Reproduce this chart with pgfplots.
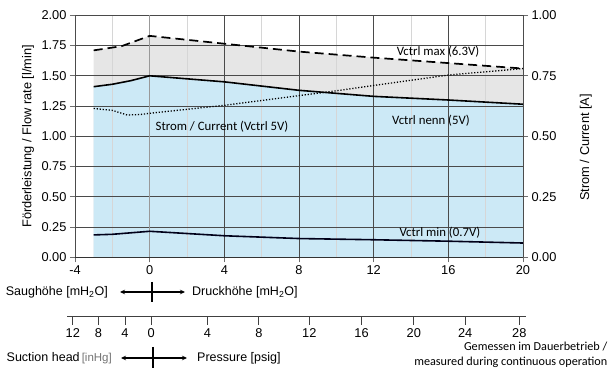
\documentclass[border=0pt]{standalone}
\usepackage{fontspec}
\setmainfont{Liberation Sans}
\newfontfamily\calib{Carlito}
\usepackage{pgfplots}
\pgfplotsset{compat=1.18}
\usetikzlibrary{arrows.meta}
\definecolor{fillblue}{HTML}{CCE9F6}
\definecolor{fillgray}{HTML}{E6E6E6}
\definecolor{gridd}{HTML}{4A4A4A}
\definecolor{gridl}{HTML}{D6D6D6}
\definecolor{axisc}{HTML}{6E6E6E}

\begin{document}
\begin{tikzpicture}[font=\fontsize{12.8}{15}\selectfont]
\begin{axis}[
  set layers,
  at={(0,0)}, anchor=south west,
  scale only axis, width=448pt, height=242pt,
  xmin=-4, xmax=20, ymin=0, ymax=2,
  xtick={-4,0,...,20}, minor xtick={-2,2,...,18},
  ytick={0,0.25,...,2},
  yticklabel style={/pgf/number format/.cd, fixed, fixed zerofill, precision=2},
  /pgf/number format/assume math mode=true,
  grid=both,
  major grid style={gridd, line width=0.7pt},
  minor grid style={gridl, line width=0.8pt},
  extra x ticks={0}, extra x tick labels={},
  extra x tick style={grid=major, major grid style={gray!80, line width=1.6pt}},
  axis x line*=bottom, axis y line*=left,
  x axis line style={-, black!80, line width=0.9pt},
  y axis line style={-, black!70, line width=0.9pt},
  tick align=outside, major tick length=5pt, minor tick length=0pt,
  tick style={axisc, line width=0.7pt},
  ylabel={Förderleistung / Flow rate [l/min]},
  ylabel style={at={(axis description cs:-0.105,0.5)}, anchor=center},
]
\addplot[fill=fillgray, draw=none, on layer=axis background] coordinates {
  (-3,1.71) (-1.5,1.745) (0,1.83) (4,1.765) (8,1.70) (12,1.65) (16,1.605) (20,1.56)
} \closedcycle;
\addplot[fill=fillblue, draw=none, on layer=axis background] coordinates {
  (-3,1.41) (-2,1.43) (-1,1.46) (0,1.50) (4,1.45) (8,1.38) (12,1.33) (16,1.30) (20,1.265)
} \closedcycle;
\addplot[black, line width=1.7pt, dash pattern=on 9pt off 5pt] coordinates {
  (-3,1.71) (-1.5,1.745) (0,1.83) (4,1.765) (8,1.70) (12,1.65) (16,1.605) (20,1.56)
};
\addplot[black, line width=1.6pt] coordinates {
  (-3,1.41) (-2,1.43) (-1,1.46) (0,1.50) (4,1.45) (8,1.38) (12,1.33) (16,1.30) (20,1.265)
};
\addplot[black!90!blue, line width=1.6pt] coordinates {
  (-3,0.185) (-2,0.19) (0,0.215) (4,0.178) (8,0.155) (12,0.145) (16,0.133) (20,0.118)
};
\node[font=\calib\fontsize{12.8}{15}\selectfont] at (axis cs:15.45,1.697) {Vctrl max (6.3V)};
\node[font=\calib\fontsize{12.8}{15}\selectfont] at (axis cs:15.07,1.126) {Vctrl nenn (5V)};
\node[font=\calib\fontsize{12.8}{15}\selectfont] at (axis cs:15.55,0.200) {Vctrl min (0.7V)};
\node[font=\calib\fontsize{12.8}{15}\selectfont] at (axis cs:3.875,1.076) {Strom / Current (Vctrl 5V)};
\end{axis}

\begin{axis}[
  at={(0,0)}, anchor=south west,
  scale only axis, width=448pt, height=242pt,
  xmin=-4, xmax=20, ymin=0, ymax=1,
  axis x line=none, axis y line*=right,
  y axis line style={-, black!70, line width=0.9pt},
  ytick={0,0.25,...,1},
  yticklabel style={/pgf/number format/.cd, fixed, fixed zerofill, precision=2},
  /pgf/number format/assume math mode=true,
  tick align=outside, major tick length=5pt,
  tick style={axisc, line width=0.7pt},
  ylabel={Strom / Current [A]},
  ylabel style={at={(axis description cs:1.14,0.454)}, anchor=center, rotate=0},
]
\addplot[black, line width=1.3pt, dash pattern=on 1.2pt off 1.8pt] coordinates {
  (-3,0.615) (-2,0.607) (-1.2,0.588) (-0.5,0.59) (0,0.595) (4,0.628) (8,0.668) (10,0.688) (12,0.71) (16,0.753) (20,0.78)
};
\end{axis}

\begin{axis}[
  at={(-8pt,-59.4pt)}, anchor=south west,
  scale only axis, width=459pt, height=5pt,
  xmin=-4.43, xmax=20.16, ymin=0, ymax=1,
  axis x line*=bottom, axis y line=none,
  x axis line style={-, black!75, line width=1.5pt},
  xtick={-4.12,-2.74,-1.32,0.08,3.1,5.85,8.55,11.35,14.15,16.9,19.8},
  xticklabels={12,8,4,0,4,8,12,16,20,24,28},
  tick align=outside, major tick length=8pt,
  xtick style={black!75, line width=0.8pt},
  /pgf/number format/assume math mode=true,
]
\addplot[draw=none] coordinates {(0,0)};
\end{axis}

% upper direction row
\node[anchor=east, inner sep=0pt, font=\fontsize{12.5}{14}\selectfont] at (33pt,-34.7pt) {Saughöhe [mH\textsubscript{2}O]};
\node[anchor=west, inner sep=0pt, font=\fontsize{12.5}{14}\selectfont] at (117pt,-34.7pt) {Druckhöhe [mH\textsubscript{2}O]};
\draw[{Stealth[length=5pt,width=4.5pt]}-{Stealth[length=5pt,width=4.5pt]}, line width=1.2pt] (45pt,-34.7pt) -- (110pt,-34.7pt);
\draw[line width=1.5pt] (77pt,-24.7pt) -- (77pt,-44.7pt);

% lower direction row
\node[anchor=east, inner sep=0pt, font=\fontsize{12.5}{14}\selectfont] at (37pt,-100.7pt) {Suction head\,{\color{black!55}\fontsize{11.5}{13}\selectfont[inHg]}};
\node[anchor=west, inner sep=0pt, font=\fontsize{12.5}{14}\selectfont] at (122pt,-100.7pt) {Pressure [psig]};
\draw[{Stealth[length=5pt,width=4.5pt]}-{Stealth[length=5pt,width=4.5pt]}, line width=1.2pt] (46pt,-100.7pt) -- (112pt,-100.7pt);
\draw[line width=1.5pt] (78pt,-89.7pt) -- (78pt,-110.7pt);

\node[anchor=east, align=right, inner sep=0pt, font=\calib\fontsize{12.2}{15}\selectfont] at (532.5pt,-98pt) {Gemessen im Dauerbetrieb /\\measured during continuous operation};

\pgfresetboundingbox
\useasboundingbox (-75pt,-113.7pt) rectangle (533pt,257.3pt);
\end{tikzpicture}
\end{document}
